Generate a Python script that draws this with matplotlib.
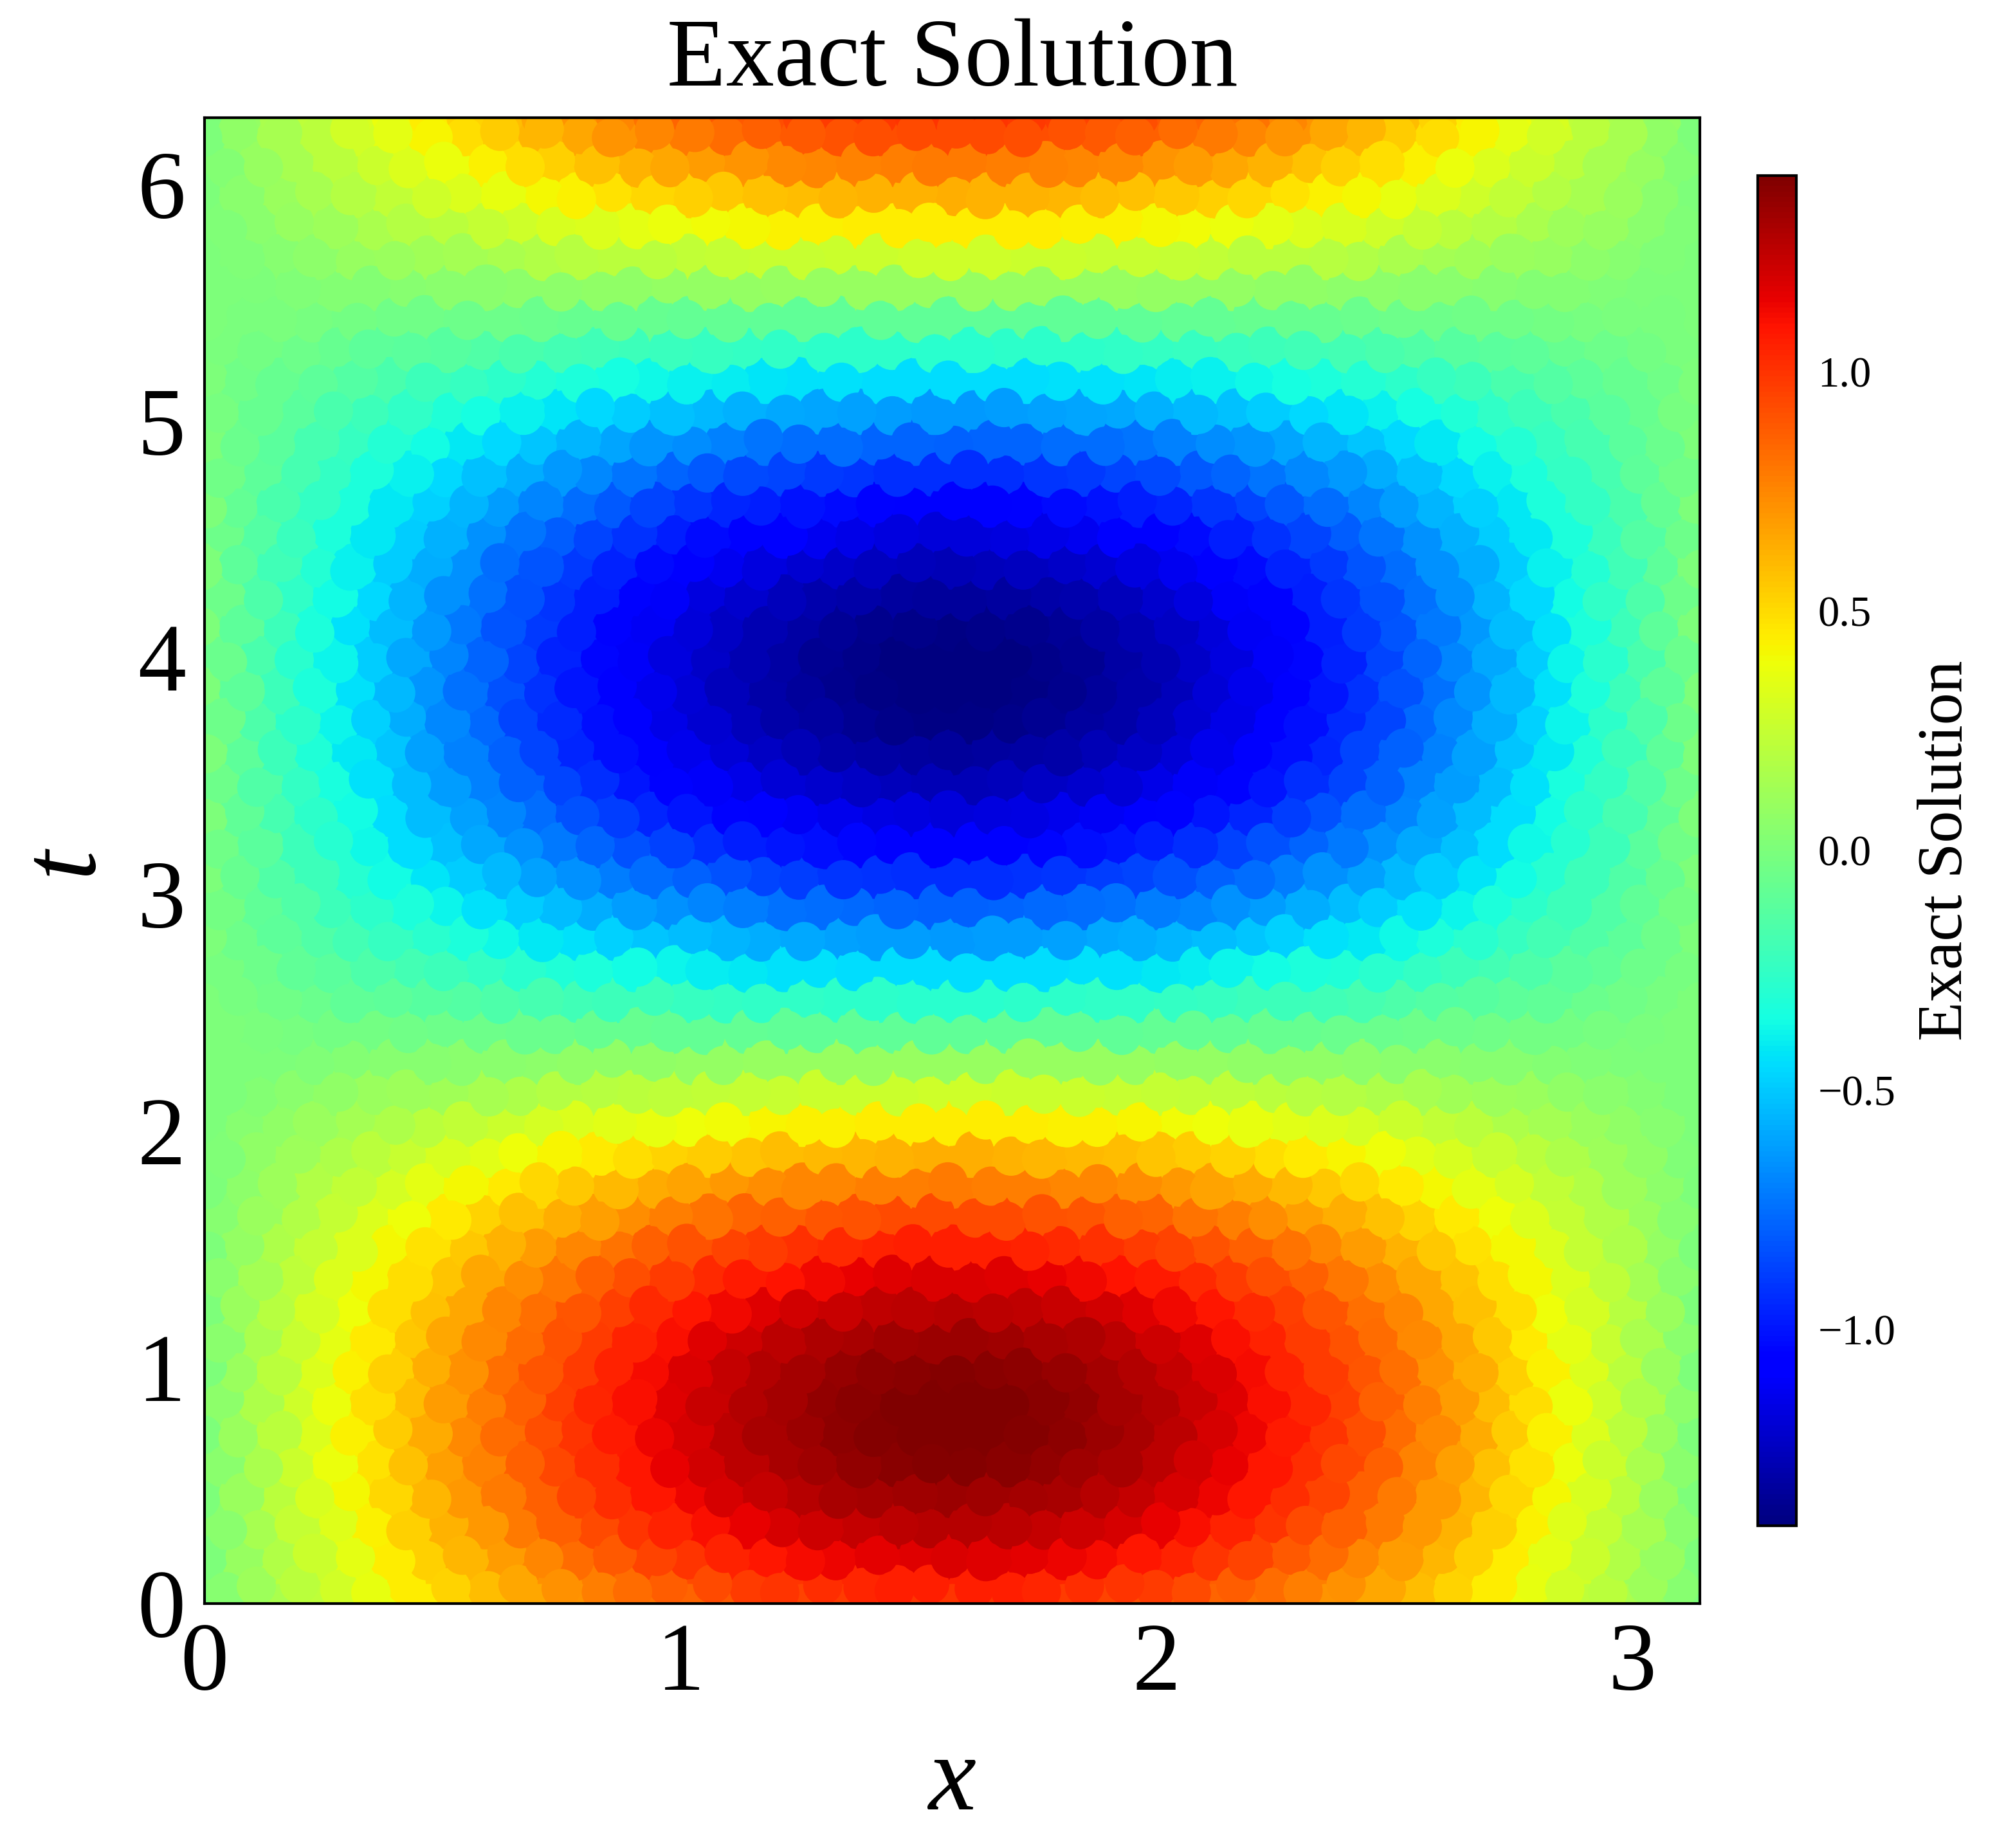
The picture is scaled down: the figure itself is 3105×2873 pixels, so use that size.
import numpy as np
import matplotlib
matplotlib.use("Agg")
import matplotlib.pyplot as plt
from matplotlib.ticker import FixedLocator

plt.rcParams['font.family'] = ['Liberation Serif', 'DejaVu Sans']
plt.rcParams['axes.unicode_minus'] = True

title_text = "Exact Solution"
x_label = "x"
t_label = "t"
cbar_label = "Exact Solution"
x_ticks = [0, 1, 2, 3]
t_ticks = [0, 1, 2, 3, 4, 5, 6]
cbar_ticks = [-1.0, -0.5, 0.0, 0.5, 1.0]
v_limit = 1.41
x_max = 3.1416
t_max = 6.2832

# Colour values, in hundredths, for the left half of each
# row of dots (the picture is mirror-symmetric about x = pi/2).
edge_row = [0,8,16,23,31,38,45,52,59,65,71,76,81,85,89,92,95,97,99,100,100]
half_rows = [
[4,12,21,29,37,45,52,59,66,72,78,83,88,93,97,100,102,104,106,106],
[0,9,18,27,36,45,53,61,69,76,83,89,95,100,105,109,112,114,116,117,118],
[5,15,25,34,44,53,62,70,79,86,93,100,105,111,115,119,122,124,126,127],
[0,11,21,31,41,51,61,70,79,87,95,102,108,114,119,124,127,130,132,133,134],
[5,16,27,38,48,58,68,77,86,94,102,109,115,121,126,130,133,136,138,139],
[0,11,22,33,44,54,64,74,83,92,100,107,114,120,126,130,134,137,139,141,141],
[6,17,28,38,49,59,69,78,87,96,104,111,117,123,128,132,136,138,140,141],
[0,11,22,32,43,53,63,72,82,90,98,105,112,118,124,128,132,135,137,138,139],
[5,16,26,36,46,56,65,74,83,91,98,105,111,117,122,126,129,131,133,134],
[0,10,20,30,39,49,58,66,75,82,90,96,103,108,113,117,121,123,125,126,127],
[5,14,23,32,41,49,57,65,73,80,86,92,98,103,107,110,113,115,117,118],
[0,8,17,25,33,41,48,56,62,69,75,81,86,91,95,98,101,103,105,106,106],
[4,11,18,25,32,39,46,52,58,63,68,73,78,81,85,87,90,91,93,93],
[0,6,12,18,24,30,36,41,46,51,56,60,64,67,70,73,75,76,78,78,79],
[2,7,12,17,22,26,31,35,39,42,46,49,52,55,57,59,60,61,62,63],
[0,4,7,11,14,17,21,24,27,30,32,35,37,39,40,42,43,44,45,45,45],
[1,3,5,7,10,12,13,15,17,19,20,22,23,24,25,26,27,27,27,28],
[0,1,1,2,3,4,4,5,5,6,7,7,7,8,8,9,9,9,9,9,9],
[0,-1,-2,-3,-3,-4,-5,-5,-6,-6,-7,-7,-8,-8,-8,-9,-9,-9,-9,-9],
[0,-2,-4,-6,-9,-11,-13,-14,-16,-18,-20,-21,-22,-24,-25,-26,-26,-27,-27,-28,-28],
[-2,-5,-9,-12,-16,-19,-22,-25,-28,-31,-33,-36,-38,-40,-41,-43,-44,-45,-45,-45],
[0,-5,-10,-15,-19,-24,-28,-33,-37,-41,-44,-48,-51,-53,-56,-58,-59,-61,-62,-62,-63],
[-3,-9,-15,-21,-27,-33,-38,-44,-49,-53,-58,-62,-65,-69,-71,-74,-76,-77,-78,-79],
[0,-7,-15,-22,-29,-36,-42,-49,-55,-61,-66,-71,-75,-79,-83,-86,-89,-91,-92,-93,-93],
[-4,-12,-21,-29,-37,-45,-52,-59,-66,-72,-78,-83,-88,-93,-97,-100,-102,-104,-106,-106],
[0,-9,-18,-27,-36,-45,-53,-61,-69,-76,-83,-89,-95,-100,-105,-109,-112,-114,-116,-117,-118],
[-5,-15,-25,-34,-44,-53,-62,-70,-79,-86,-93,-100,-105,-111,-115,-119,-122,-124,-126,-127],
[0,-11,-21,-31,-41,-51,-61,-70,-79,-87,-95,-102,-108,-114,-119,-124,-127,-130,-132,-133,-134],
[-5,-16,-27,-38,-48,-58,-68,-77,-86,-94,-102,-109,-115,-121,-126,-130,-133,-136,-138,-139],
[0,-11,-22,-33,-44,-54,-64,-74,-83,-92,-100,-107,-114,-120,-126,-130,-134,-137,-139,-141,-141],
[-6,-17,-28,-38,-49,-59,-69,-78,-87,-96,-104,-111,-117,-123,-128,-132,-136,-138,-140,-141],
[0,-11,-22,-32,-43,-53,-63,-72,-82,-90,-98,-105,-112,-118,-124,-128,-132,-135,-137,-138,-139],
[-5,-16,-26,-36,-46,-56,-65,-74,-83,-91,-98,-105,-111,-117,-122,-126,-129,-131,-133,-134],
[0,-10,-20,-30,-39,-49,-58,-66,-75,-82,-90,-96,-103,-108,-113,-117,-121,-123,-125,-126,-127],
[-5,-14,-23,-32,-41,-49,-57,-65,-73,-80,-86,-92,-98,-103,-107,-110,-113,-115,-117,-118],
[0,-8,-17,-25,-33,-41,-48,-56,-62,-69,-75,-81,-86,-91,-95,-98,-101,-103,-105,-106,-106],
[-4,-11,-18,-25,-32,-39,-46,-52,-58,-63,-68,-73,-78,-81,-85,-87,-90,-91,-93,-93],
[0,-6,-12,-18,-24,-30,-36,-41,-46,-51,-56,-60,-64,-67,-70,-73,-75,-76,-78,-78,-79],
[-2,-7,-12,-17,-22,-26,-31,-35,-39,-42,-46,-49,-52,-55,-57,-59,-60,-61,-62,-63],
[0,-4,-7,-11,-14,-17,-21,-24,-27,-30,-32,-35,-37,-39,-40,-42,-43,-44,-45,-45,-45],
[-1,-3,-5,-7,-10,-12,-13,-15,-17,-19,-20,-22,-23,-24,-25,-26,-27,-27,-27,-28],
[0,-1,-1,-2,-3,-4,-4,-5,-5,-6,-7,-7,-7,-8,-8,-9,-9,-9,-9,-9,-9],
[0,1,2,3,3,4,5,5,6,6,7,7,8,8,8,9,9,9,9,9],
[0,2,4,6,9,11,13,14,16,18,20,21,22,24,25,26,26,27,27,28,28],
[2,5,9,12,16,19,22,25,28,31,33,36,38,40,41,43,44,45,45,45],
[0,5,10,15,19,24,28,33,37,41,44,48,51,53,56,58,59,61,62,62,63],
[3,9,15,21,27,33,38,44,49,53,58,62,65,69,71,74,76,77,78,79],
[0,7,15,22,29,36,42,49,55,61,66,71,75,79,83,86,89,91,92,93,93],
]

# Small fixed nudges so the dots do not sit on a perfect lattice, as in the reference.
x_nudge = [0.006, -0.009, 0.003, 0.009, -0.004, -0.008, 0.007]
t_nudge = [-0.015, 0.008, 0.018, -0.006, -0.019, 0.012, 0.003, -0.011, 0.016, -0.002, -0.017]

n_rows = len(half_rows)
dx = x_max / 40
dt = t_max / n_rows


def expand(half):
    """Mirror a half row; 20-value rows sit between columns, 21-value rows on them."""
    if len(half) == 20:
        vals = half + half[::-1]
        xs = (np.arange(40) + 0.5) * dx
    else:
        vals = half + half[-2::-1]
        xs = np.arange(41) * dx
    return xs, np.array(vals) / 100.0


xs_all, ts_all, vs_all = [], [], []
xs_base, ts_base = [], []
for t_pos, half in [(0.0, edge_row), (t_max, edge_row)]:
    xs, vs = expand(half)
    xs_all.append(xs)
    ts_all.append(np.full(xs.shape, t_pos))
    vs_all.append(vs)
    xs_base.append(xs)
    ts_base.append(np.full(xs.shape, t_pos))
edge_count = sum(len(a) for a in xs_all)
for i, half in enumerate(half_rows):
    xs, vs = expand(half)
    k = np.arange(len(xs)) + 5 * i
    xs_all.append(xs + np.array(x_nudge)[k % len(x_nudge)])
    ts_all.append((i + 0.5) * dt + np.array(t_nudge)[k % len(t_nudge)])
    vs_all.append(vs)
    xs_base.append(xs)
    ts_base.append(np.full(xs.shape, (i + 0.5) * dt))
xs_all = np.concatenate(xs_all)
ts_all = np.concatenate(ts_all)
vs_all = np.concatenate(vs_all)
xs_base = np.concatenate(xs_base)
ts_base = np.concatenate(ts_base)

# Fixed drawing order so overlaps do not all run one way.
n = len(xs_all)
order = np.concatenate([np.arange(edge_count),
                        edge_count + (np.arange(n - edge_count) * 617) % (n - edge_count)])

W, H = 3105, 2873
fig = plt.figure(figsize=(W / 300, H / 300), dpi=300)
ax = fig.add_axes([318 / W, 1 - 2493 / H, (2643 - 318) / W, (2493 - 183) / H])
# Lower layer of the same dots closes the gaps; upper layer shows the reference's dot size.
ax.scatter(xs_base[order], ts_base[order], c=vs_all[order], cmap='jet',
           vmin=-v_limit, vmax=v_limit, s=300, linewidths=0)
sc = ax.scatter(xs_all[order], ts_all[order], c=vs_all[order], cmap='jet',
                vmin=-v_limit, vmax=v_limit, s=215, linewidths=0)
ax.set_xlim(0, x_max)
ax.set_ylim(0, t_max)
ax.set_xticks(x_ticks)
ax.set_yticks(t_ticks)
ax.tick_params(axis='both', length=0, pad=7, labelsize=36)
for s in ax.spines.values():
    s.set_linewidth(1.0)
ax.set_xlabel(x_label, fontsize=40, fontstyle='italic', labelpad=9)
ax.set_ylabel(t_label, fontsize=40, fontstyle='italic', labelpad=9)
ax.set_title(title_text, fontsize=36, pad=12)

cax = fig.add_axes([2733 / W, 1 - 2372 / H, 60 / W, (2372 - 273) / H])
cb = fig.colorbar(sc, cax=cax)
cb.set_ticks(FixedLocator(cbar_ticks))
cb.ax.tick_params(length=0, pad=8, labelsize=16)
cb.outline.set_linewidth(1.0)
cb.set_label(cbar_label, fontsize=24, labelpad=8)

fig.savefig("out.png", dpi=300)
